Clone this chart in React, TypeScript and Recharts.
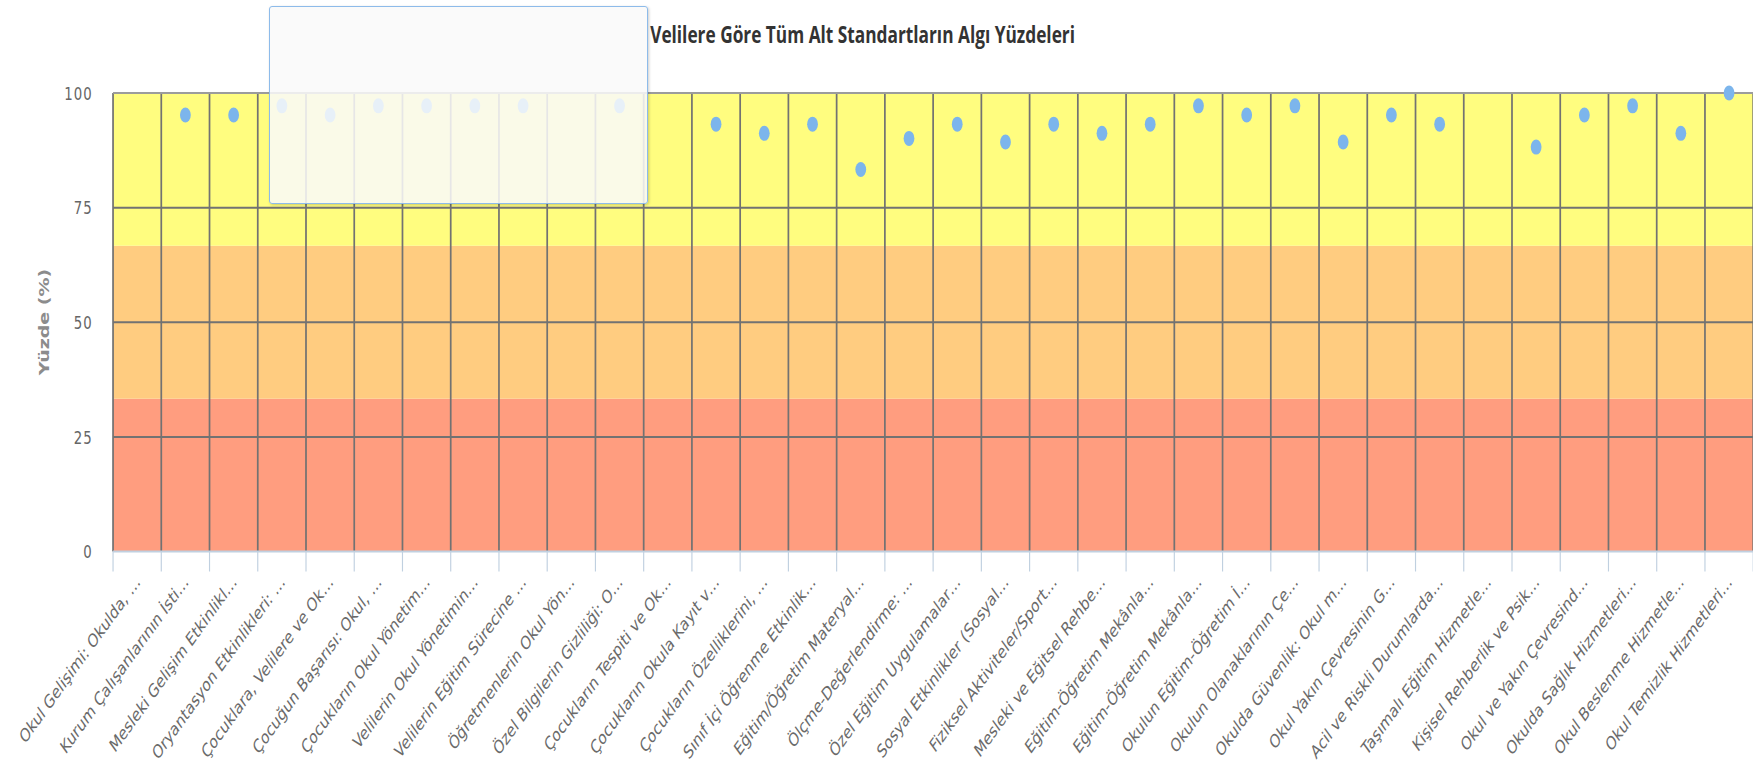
import {
  ComposedChart,
  Line,
  ReferenceArea,
  ReferenceLine,
  XAxis,
  YAxis,
} from 'recharts'

// the reference is a horizontally squeezed screenshot, so the chart is drawn wide and scaled on x
const SX = 0.72
const FULL_W = 1753
const H = 773
const INNER_W = Math.round(FULL_W / SX)
const Y_AXIS_W = 157
const PLOT_TOP = 93
const PLOT_BOTTOM = 551.5
const BAND_HALF = (INNER_W - Y_AXIS_W) / 34 / 2

const categoryLabels = [
  'Okul Gelişimi: Okulda, …',
  'Kurum Çalışanlarının İsti…',
  'Mesleki Gelişim Etkinlikl…',
  'Oryantasyon Etkinlikleri: …',
  'Çocuklara, Velilere ve Ok…',
  'Çocuğun Başarısı: Okul, …',
  'Çocukların Okul Yönetim…',
  'Velilerin Okul Yönetimin…',
  'Velilerin Eğitim Sürecine …',
  'Öğretmenlerin Okul Yön…',
  'Özel Bilgilerin Gizliliği: O…',
  'Çocukların Tespiti ve Ok…',
  'Çocukların Okula Kayıt v…',
  'Çocukların Özelliklerini, …',
  'Sınıf İçi Öğrenme Etkinlik…',
  'Eğitim/Öğretim Materyal…',
  'Ölçme-Değerlendirme: …',
  'Özel Eğitim Uygulamalar…',
  'Sosyal Etkinlikler (Sosyal…',
  'Fiziksel Aktiviteler/Sport…',
  'Mesleki ve Eğitsel Rehbe…',
  'Eğitim-Öğretim Mekânla…',
  'Eğitim-Öğretim Mekânla…',
  'Okulun Eğitim-Öğretim İ…',
  'Okulun Olanaklarının Çe…',
  'Okulda Güvenlik: Okul m…',
  'Okul Yakın Çevresinin G…',
  'Acil ve Riskli Durumlarda…',
  'Taşımalı Eğitim Hizmetle…',
  'Kişisel Rehberlik ve Psik…',
  'Okul ve Yakın Çevresind…',
  'Okulda Sağlık Hizmetleri…',
  'Okul Beslenme Hizmetle…',
  'Okul Temizlik Hizmetleri…',
]

const percentValues: (number | null)[] = [
  null, 95.2, 95.2, 97.2, 95.2, 97.2, 97.2, 97.2, 97.2, null,
  97.2, null, 93.2, 91.2, 93.2, 83.3, 90.1, 93.2, 89.3, 93.2,
  91.2, 93.2, 97.2, 95.2, 97.2, 89.3, 95.2, 93.2, null, 88.2,
  95.2, 97.2, 91.2, 100,
]

const yTicks = [0, 25, 50, 75, 100]

const bands = [
  { from: 0, to: 33.33, color: '#ff9d7f' },
  { from: 33.33, to: 66.67, color: '#ffcc80' },
  { from: 66.67, to: 100, color: '#fffd7f' },
]

const categoryKeys = categoryLabels.map((_, i) => `c${i}`)

const chartData = categoryKeys.map((key, i) => ({
  key,
  value: percentValues[i],
}))

function CategoryTick(props: any) {
  const { x, y, payload } = props
  const idx = categoryKeys.indexOf(payload.value)
  const half = typeof payload.offset === 'number' && payload.offset > 0 ? payload.offset : BAND_HALF
  const ax = x + 5.5
  const ay = y + 31.5
  return (
    <g>
      <line x1={x - half} x2={x - half} y1={y} y2={y + 20} stroke="#c0d0e0" strokeWidth={1.6} />
      {idx === categoryKeys.length - 1 ? (
        <line x1={x + half} x2={x + half} y1={y} y2={y + 20} stroke="#c0d0e0" strokeWidth={1.6} />
      ) : null}
      <text
        x={ax}
        y={ay}
        textAnchor="end"
        transform={`rotate(-45, ${ax}, ${ay})`}
        fill="#6a6a6a"
        fontSize={18.5}
        fontFamily="'DejaVu Sans', sans-serif"
      >
        {categoryLabels[idx]}
      </text>
    </g>
  )
}

function PercentTick(props: any) {
  const { x, y, payload } = props
  return (
    <text
      x={x - 28}
      y={y}
      dy="0.36em"
      textAnchor="end"
      fill="#666"
      fontSize={18.5}
      letterSpacing={1.5}
      fontFamily="'DejaVu Sans', sans-serif"
    >
      {payload.value}
    </text>
  )
}

export default function App() {
  return (
    <div
      style={{
        position: 'absolute',
        left: 0,
        top: 0,
        width: FULL_W,
        height: H,
        overflow: 'hidden',
        background: '#fff',
      }}
    >
      <div
        style={{
          position: 'relative',
          width: INNER_W,
          height: H,
          transform: `scaleX(${SX})`,
          transformOrigin: '0 0',
        }}
      >
        <ComposedChart
          width={INNER_W}
          height={H}
          data={chartData}
          margin={{ top: PLOT_TOP, right: 0, bottom: 0, left: 0 }}
        >
          {bands.map((b) => (
            <ReferenceArea
              key={b.color}
              y1={b.from}
              y2={b.to}
              fill={b.color}
              fillOpacity={1}
              stroke="none"
            />
          ))}
          {categoryKeys.map((k) => (
            <ReferenceLine key={k} x={k} position="start" stroke="#727272" strokeWidth={2.4} />
          ))}
          <ReferenceLine
            x={categoryKeys[categoryKeys.length - 1]}
            position="end"
            stroke="#727272"
            strokeWidth={2.4}
          />
          {yTicks
            .filter((t) => t > 0)
            .map((t) => (
              <ReferenceLine
                key={t}
                y={t}
                stroke={t === 100 ? '#9c9c9c' : '#727272'}
                strokeWidth={2}
              />
            ))}
          <XAxis
            dataKey="key"
            type="category"
            scale="band"
            interval={0}
            height={H - PLOT_BOTTOM}
            tickSize={0}
            tickMargin={0}
            tickLine={false}
            axisLine={{ stroke: '#c0d0e0', strokeWidth: 2 }}
            tick={<CategoryTick />}
          />
          <YAxis
            domain={[0, 100]}
            ticks={yTicks}
            interval={0}
            width={Y_AXIS_W}
            tickSize={0}
            tickMargin={0}
            tickLine={false}
            axisLine={false}
            tick={<PercentTick />}
          />
          <Line
            dataKey="value"
            stroke="none"
            strokeWidth={0}
            dot={{ r: 7.5, fill: '#7cb5ec', stroke: 'none' }}
            activeDot={false}
            isAnimationActive={false}
          />
        </ComposedChart>
        <svg
          width={INNER_W}
          height={H}
          style={{ position: 'absolute', left: 0, top: 0, pointerEvents: 'none' }}
        >
          <text
            x={903}
            y={43}
            textLength={590}
            lengthAdjust="spacingAndGlyphs"
            fill="#333"
            fontSize={23}
            fontWeight={700}
            fontFamily="'Open Sans', sans-serif"
          >
            Velilere Göre Tüm Alt Standartların Algı Yüzdeleri
          </text>
          <text
            x={68}
            y={322}
            textAnchor="middle"
            transform="rotate(-90, 68, 322)"
            fill="#8c8c8c"
            fontSize={19}
            fontWeight={700}
            fontFamily="'DejaVu Sans', sans-serif"
          >
            Yüzde (%)
          </text>
        </svg>
      </div>
      <div
        style={{
          position: 'absolute',
          left: 269,
          top: 6,
          width: 377,
          height: 196,
          border: '1px solid #8dbbea',
          borderRadius: 3,
          background: 'rgba(249, 249, 249, 0.86)',
          boxShadow: '1px 1px 3px rgba(0, 0, 0, 0.2)',
        }}
      />
    </div>
  )
}
